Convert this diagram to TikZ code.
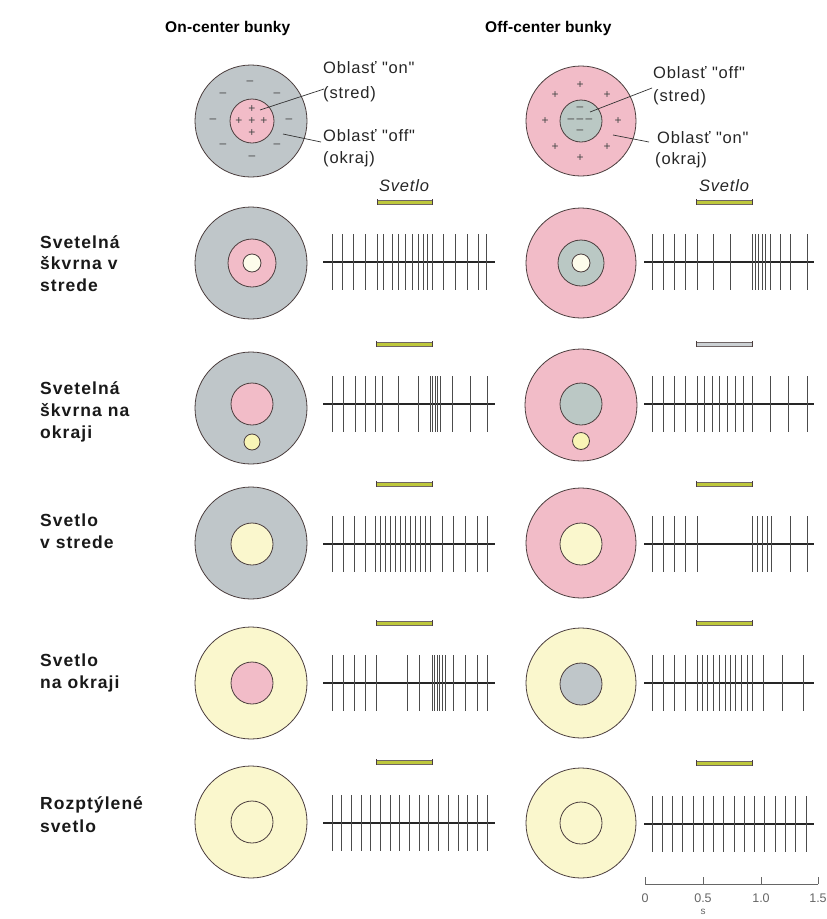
\documentclass[tikz,border=0pt]{standalone}
\usepackage{fontspec}
\setmainfont{Liberation Sans}
\newfontfamily\lblfont[LetterSpace=6]{Liberation Sans}
\newfontfamily\annfont[LetterSpace=5]{Liberation Sans}
\newfontfamily\hdfont[LetterSpace=1]{Liberation Sans}
\definecolor{ringgray}{RGB}{191,198,201}
\definecolor{cgreen}{RGB}{186,200,196}
\definecolor{rpink}{RGB}{242,188,200}
\definecolor{ryellow}{RGB}{250,247,205}
\definecolor{spoty}{RGB}{249,245,182}
\definecolor{lbarc}{RGB}{190,200,60}
\definecolor{edgec}{RGB}{75,62,62}
\definecolor{signc}{RGB}{70,70,70}
\newcommand\spiketrain[4]{%
  \draw[baseln] (#2,#1) -- (#3,#1);
  \foreach \s in {#4} \draw[spike] (\s,{#1-28}) -- (\s,{#1+28});}
\newcommand\lightbar[4][lbarc]{%
  \draw[draw=edgec!80, line width=0.6pt, fill=#1] (#2,{#4-2}) rectangle (#3,{#4+2});
  \draw[edgec, line width=0.8pt] (#2,{#4-3}) -- (#2,{#4+3}) (#3,{#4-3}) -- (#3,{#4+3});}
\begin{document}
\begin{tikzpicture}[x=1pt,y=-1pt,
  ring/.style={draw=edgec, line width=0.8pt},
  spike/.style={line width=1pt, draw=black!70},
  baseln/.style={line width=1.5pt, draw=black!85},
  lbl/.style={anchor=base west, inner sep=0pt, font=\lblfont\bfseries\fontsize{17.5}{20}\selectfont, text=black!90},
  hdr/.style={anchor=base west, inner sep=0pt, font=\hdfont\bfseries\fontsize{15.5}{18}\selectfont},
  ann/.style={anchor=base west, inner sep=0pt, font=\annfont\fontsize{16.5}{19}\selectfont, text=black!85},
  sgn/.style={inner sep=0pt, font=\fontsize{12}{12}\selectfont, text=signc},
  leader/.style={draw=black!80, line width=0.7pt},
  tick/.style={draw=black!60, line width=0.7pt},
  scl/.style={inner sep=0pt, font=\fontsize{12.5}{12.5}\selectfont, text=black!60}]
\useasboundingbox (0,0) rectangle (827,919);
\fill[white] (0,0) rectangle (827,919);

% headers
\node[hdr] (hOn) at (165,32) {On-center bunky};
\node[hdr] (hOff) at (485,32) {Off-center bunky};

% ---------- row 0 : legend ----------
\filldraw[ring, fill=ringgray] (251,121) circle (56);
\filldraw[ring, fill=rpink] (252,121) circle (22);
\foreach \p in {(250,83),(223,95),(277,95),(213,121),(289,121),(223,146),(277,146),(252,158)}
  \node[sgn] at \p {--};
\foreach \p in {(252,109),(239,121),(252,121),(264,121),(252,133)}
  \node[sgn] at \p {+};
\filldraw[ring, fill=rpink] (581,121) circle (55);
\filldraw[ring, fill=cgreen] (581,121) circle (21);
\foreach \p in {(580,85),(555,95),(607,95),(545,121),(618,121),(555,147),(607,147),(580,158)}
  \node[sgn] at \p {+};
\foreach \p in {(580,109),(571,121),(580,121),(589,121),(580,132)}
  \node[sgn] at \p {--};

\node[ann] (a1) at (323,73) {Oblasť "on"};
\node[ann] (a2) at (323,98) {(stred)};
\node[ann] (a3) at (323,141) {Oblasť "off"};
\node[ann] (a4) at (323,163) {(okraj)};
\coordinate (l1a) at (260,110); \coordinate (l1b) at (324,89);
\coordinate (l2a) at (283,134); \coordinate (l2b) at (321,142);
\draw[leader] (l1a) -- (l1b);
\draw[leader] (l2a) -- (l2b);

\node[ann] (b1) at (653,78) {Oblasť "off"};
\node[ann] (b2) at (653,101) {(stred)};
\node[ann] (b3) at (657,143) {Oblasť "on"};
\node[ann] (b4) at (655,164) {(okraj)};
\coordinate (r1a) at (590,112); \coordinate (r1b) at (652,88);
\coordinate (r2a) at (613,135); \coordinate (r2b) at (649,142);
\draw[leader] (r1a) -- (r1b);
\draw[leader] (r2a) -- (r2b);

\node[anchor=base, inner sep=0pt, font=\annfont\itshape\fontsize{16.5}{19}\selectfont, text=black!85] (sv1) at (404,191) {Svetlo};
\node[anchor=base, inner sep=0pt, font=\annfont\itshape\fontsize{16.5}{19}\selectfont, text=black!85] (sv2) at (724,191) {Svetlo};

% ---------- row 1 ----------
\node[lbl] (t11) at (40,248) {Svetelná};
\node[lbl] (t12) at (40,269) {škvrna v};
\node[lbl] (t13) at (40,291) {strede};
\filldraw[ring, fill=ringgray] (251,263) circle (56);
\filldraw[ring, fill=rpink] (252,263) circle (24);
\filldraw[ring, fill=white!60!ryellow] (252,263) circle (9);
\filldraw[ring, fill=rpink] (581,263) circle (55);
\filldraw[ring, fill=cgreen] (581,263) circle (23);
\filldraw[ring, fill=white!60!ryellow] (581,263) circle (9);
\lightbar{377}{432}{202}
\lightbar{696}{752}{202}
\spiketrain{262}{323}{495}{332,342,353,365,377,383,392,398,405,412,418,423,427,432,443,455,467,478,486}
\spiketrain{262}{644}{814}{652,663,674,685,697,713,730,752,755,758,762,765,770,780,790,807}

% ---------- row 2 ----------
\node[lbl] (t21) at (40,394) {Svetelná};
\node[lbl] (t22) at (40,416) {škvrna na};
\node[lbl] (t23) at (40,438) {okraji};
\filldraw[ring, fill=ringgray] (251,408) circle (56);
\filldraw[ring, fill=rpink] (252,404) circle (21);
\filldraw[ring, fill=spoty] (252,442) circle (8);
\filldraw[ring, fill=rpink] (581,405) circle (56);
\filldraw[ring, fill=cgreen!80!ringgray] (581,404) circle (21);
\filldraw[ring, fill=spoty] (581,441) circle (8.5);
\lightbar{376}{432}{344}
\lightbar[ringgray!80!white]{696}{752}{344}
\spiketrain{404}{323}{495}{332,343,355,365,375,382,398,418,430,432,435,437,440,452,470,487}
\spiketrain{404}{644}{814}{652,663,674,685,697,704,712,719,727,735,743,752,770,788,807}

% ---------- row 3 ----------
\node[lbl] (t31) at (40,526) {Svetlo};
\node[lbl] (t32) at (40,548) {v strede};
\filldraw[ring, fill=ringgray] (251,543) circle (56);
\filldraw[ring, fill=ryellow] (252,544) circle (21);
\filldraw[ring, fill=rpink] (581,543) circle (55);
\filldraw[ring, fill=ryellow] (581,544) circle (21);
\lightbar{376}{432}{484}
\lightbar{696}{752}{484}
\spiketrain{544}{323}{495}{332,343,354,365,375,380,385,390,395,400,405,410,415,420,425,430,442,453,465,477,487}
\spiketrain{544}{644}{814}{652,663,674,685,697,752,757,762,767,771,790,807}

% ---------- row 4 ----------
\node[lbl] (t41) at (40,666) {Svetlo};
\node[lbl] (t42) at (40,688) {na okraji};
\filldraw[ring, fill=ryellow] (251,683) circle (56);
\filldraw[ring, fill=rpink] (252,683) circle (21);
\filldraw[ring, fill=ryellow] (581,683) circle (55);
\filldraw[ring, fill=ringgray] (581,684) circle (21);
\lightbar{376}{432}{623}
\lightbar{696}{752}{623}
\spiketrain{683}{323}{495}{332,343,354,365,376,407,419,432,434,437,439,442,445,453,465,477,487}
\spiketrain{683}{644}{814}{652,663,674,685,697,702,707,713,719,725,730,735,741,747,752,763,782,803}

% ---------- row 5 ----------
\node[lbl] (t51) at (40,809) {Rozptýlené};
\node[lbl] (t52) at (40,832) {svetlo};
\filldraw[ring, fill=ryellow] (251,822) circle (56);
\draw[ring] (252,822) circle (21);
\filldraw[ring, fill=ryellow] (581,823) circle (55);
\draw[ring] (581,823) circle (21);
\lightbar{376}{432}{762}
\lightbar{696}{752}{763}
\spiketrain{823}{323}{495}{332,341.7,351.4,361.1,370.8,380.4,390.1,399.8,409.5,419.2,428.9,438.6,448.3,458,467.7,477.3,487}
\spiketrain{824}{644}{814}{652,662.3,672.5,682.8,693.1,703.3,713.6,723.9,734.1,744.4,754.7,764.9,775.2,785.5,795.7,806}

% ---------- time scale ----------
\coordinate (s0) at (645,884); \coordinate (s3) at (818,884);
\draw[tick] (s0) -- (s3);
\foreach \x/\l in {645/0,703/0.5,761/1.0,818/1.5} {
  \draw[tick] (\x,884) -- (\x,877);
  \node[scl] at (\x,898) {\l};
}
\node[scl, font=\fontsize{10}{10}\selectfont] (sunit) at (703,912) {s};
\end{tikzpicture}
\end{document}
